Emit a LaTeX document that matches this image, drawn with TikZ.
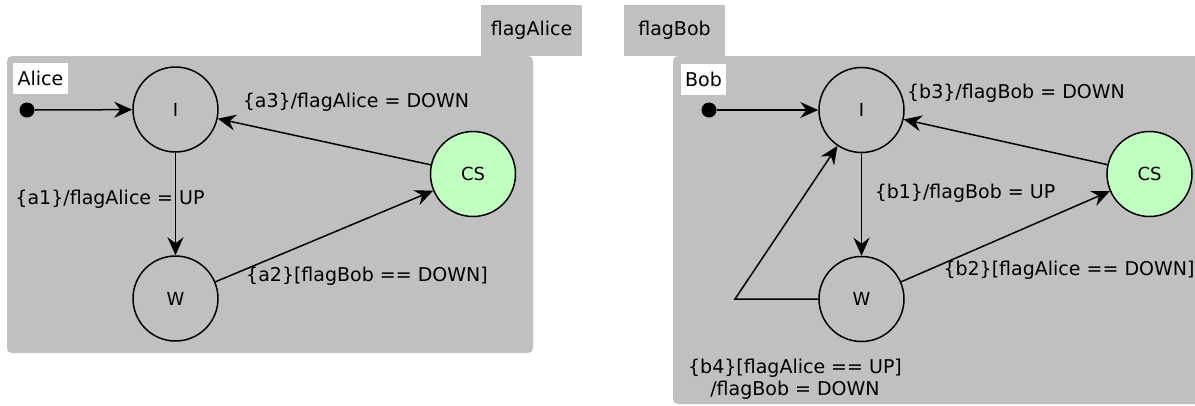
\documentclass[tikz,border=0pt]{standalone}
\usepackage{fontspec}
\setmainfont{DejaVu Sans}
\usetikzlibrary{arrows.meta}
\definecolor{boxgrey}{HTML}{C0C0C0}
\definecolor{csgreen}{HTML}{C0FFC0}
\begin{document}
\begin{tikzpicture}[x=1pt,y=-1pt,
  state/.style={circle,draw,line width=1.5pt,minimum size=85pt,inner sep=0pt,font=\fontsize{18}{20}\selectfont},
  trans/.style={line width=1.5pt,-{Stealth[length=18pt,width=16pt,inset=6pt]}},
  plain/.style={line width=1.5pt},
  lbl/.style={font=\fontsize{19}{22}\selectfont,inner sep=0pt},
  region/.style={fill=boxgrey,rounded corners=5pt},
  flagbox/.style={fill=boxgrey,minimum width=101pt,minimum height=51pt,inner sep=0pt,font=\fontsize{19}{22}\selectfont},
  namebox/.style={fill=white,inner xsep=4.5pt,inner ysep=0pt,minimum height=31pt,font=\fontsize{19}{22}\selectfont},
  initdot/.style={circle,fill=black,minimum size=15pt,inner sep=0pt}]
\clip (0,0) rectangle (1195,405);
\fill[white] (0,0) rectangle (1195,405);
% regions
\path[region] (7,56) rectangle (533,353);
\path[region] (673,56) rectangle (1210,404);
\node[flagbox] (fa) at (531.5,30.5) {flagAlice};
\node[flagbox] (fb) at (674.5,30.5) {flagBob};
% Alice
\node[namebox] (alice) at (40.5,78.5) {Alice};
\node[initdot] (a0) at (27,110) {};
\node[state] (aI) at (175.5,109.5) {I};
\node[state] (aW) at (175.5,298.5) {W};
\node[state,fill=csgreen] (aCS) at (473,174) {CS};
\draw[trans] (a0) -- (aI);
\draw[trans] (aI) -- (aW);
\draw[trans] (aW) -- (aCS);
\draw[trans] (aCS) -- (aI);
\node[lbl] (la3) at (356,102) {\{a3\}/flagAlice = DOWN};
\node[lbl] (la1) at (110,199) {\{a1\}/flagAlice = UP};
\node[lbl] (la2) at (367,276) {\{a2\}[flagBob == DOWN]};
% Bob
\node[namebox] (bob) at (703.5,79) {Bob};
\node[initdot] (b0) at (709,110) {};
\node[state] (bI) at (861.5,110) {I};
\node[state] (bW) at (861.5,299) {W};
\node[state,fill=csgreen] (bCS) at (1149.5,174) {CS};
\coordinate (bc) at (735,299);
\draw[trans] (b0) -- (bI);
\draw[trans] (bI) -- (bW);
\draw[trans] (bW) -- (bCS);
\draw[trans] (bCS) -- (bI);
\draw[trans] (bW) -- (bc) -- (bI);
\node[lbl] (lb3) at (1016,93) {\{b3\}/flagBob = DOWN};
\node[lbl] (lb1) at (965,193) {\{b1\}/flagBob = UP};
\node[lbl] (lb2) at (1069,270) {\{b2\}[flagAlice == DOWN]};
\node[lbl,align=center] (lb4) at (795,379) {\{b4\}[flagAlice == UP]\\/flagBob = DOWN};
\end{tikzpicture}
\end{document}
